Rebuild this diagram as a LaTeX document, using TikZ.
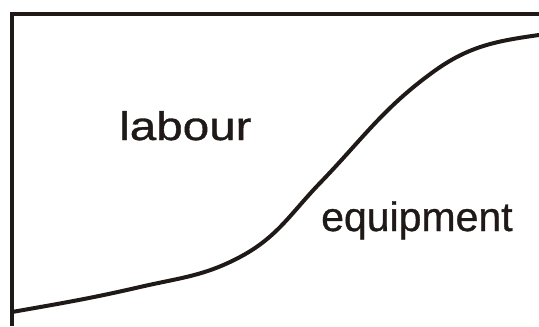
\documentclass[tikz,border=0pt]{standalone}
\usepackage{fontspec}
\setmainfont{Liberation Sans}
\newfontfamily\lblfont{Liberation Sans}[FakeBold=0.8]
\definecolor{ink}{RGB}{31,26,23}
\begin{document}
\begin{tikzpicture}[x=1pt,y=-1pt,
  frame/.style={draw=ink,line width=4pt,line join=miter},
  curveline/.style={draw=ink,line width=4pt},
  lbl/.style={inner sep=0pt,text=ink,anchor=base west}]
\useasboundingbox (0,0) rectangle (539,327);
\path[frame] (12,326) -- (12,14) -- (539,14);
\path[curveline] (12,312) to[out=10,in=193] (140,287)
  to[out=13,in=208] (240,257)
  to[out=28,in=226] (320,183)
  to[out=46,in=216] (433,72)
  to[out=36,in=188] (539,35);
\node[lbl,xscale=1.19,font=\lblfont\fontsize{40}{42}\selectfont] (labour) at (119,140) {labour};
\node[lbl,font=\lblfont\fontsize{41}{43}\selectfont] (equipment) at (321,231) {equipment};
\end{tikzpicture}
\end{document}
